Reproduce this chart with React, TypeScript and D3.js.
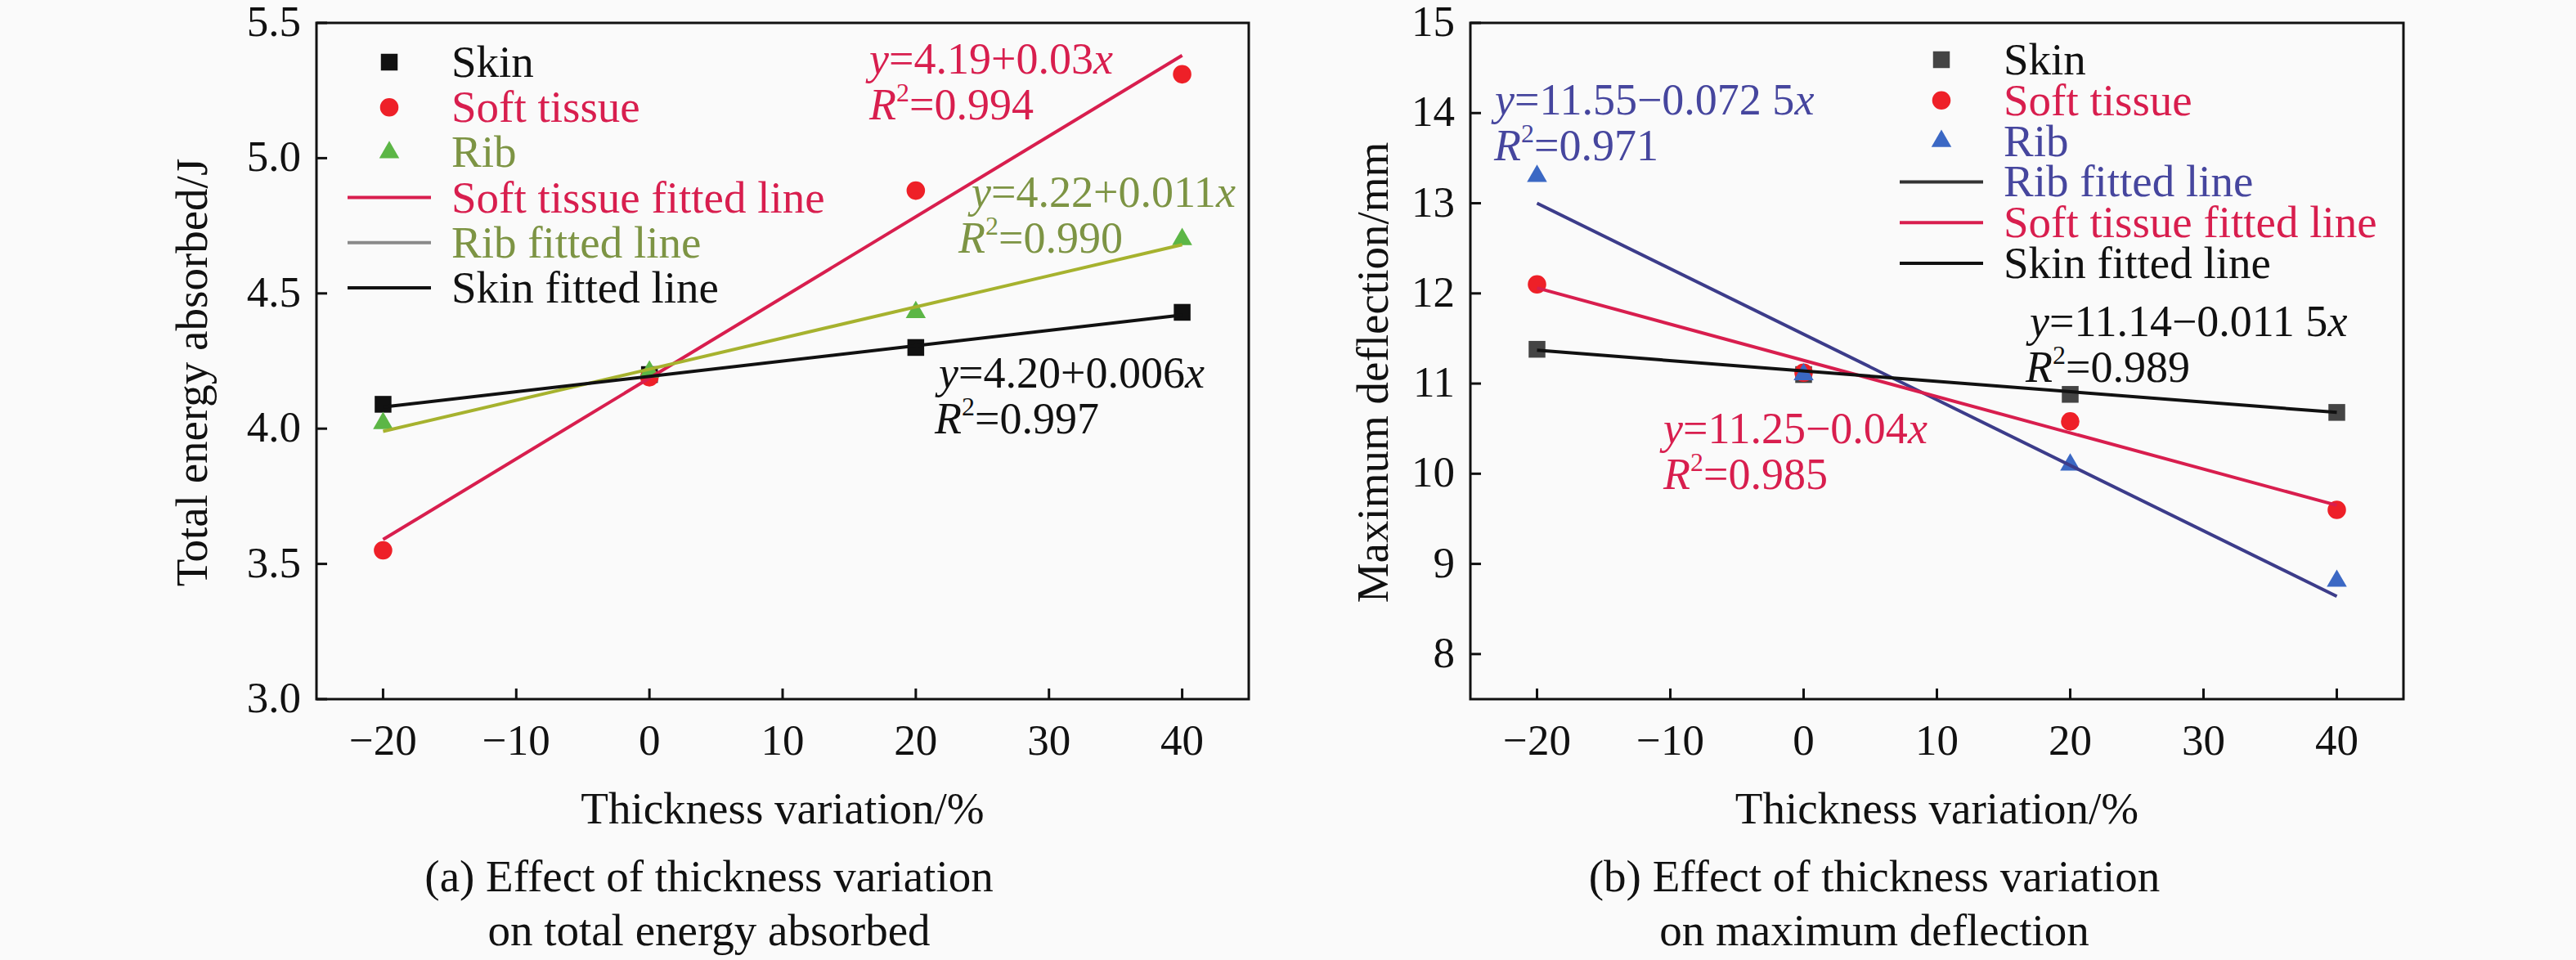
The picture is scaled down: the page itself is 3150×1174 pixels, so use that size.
import React from "react";
import * as d3 from "d3";

// thickness variation (%) where the simulations were run
const thickness = [-20, 0, 20, 40];
// fitted lines are drawn between these two x values
const fitRange = [-20, 40];

// (a) total energy absorbed, J
const energySkin = [4.09, 4.2, 4.3, 4.43];
const energySoft = [3.55, 4.19, 4.88, 5.31];
const energyRib = [4.02, 4.21, 4.43, 4.7];
const energyFitSkin = [4.08, 4.42];
const energyFitSoft = [3.59, 5.38];
const energyFitRib = [3.99, 4.68];
const energyTicks = [3.0, 3.5, 4.0, 4.5, 5.0, 5.5];

// (b) maximum deflection, mm
const deflSkin = [11.38, 11.1, 10.88, 10.68];
const deflSoft = [12.1, 11.12, 10.58, 9.6];
const deflRib = [13.3, 11.1, 10.1, 8.81];
const deflFitSkin = [11.37, 10.68];
const deflFitSoft = [12.06, 9.65];
const deflFitRib = [13.0, 8.64];
const deflTicks = [8, 9, 10, 11, 12, 13, 14, 15];

const xTicks = [-20, -10, 0, 10, 20, 30, 40];

const FONT = "'Liberation Serif', 'Times New Roman', serif";
const CRIMSON = "#d81e4e";
const RED = "#ee2028";

type Eq = { eq: string[]; r2: string; x: number; y: number; rx: number; color: string };
type LegendRow = { label: string; color: string; kind: "square" | "circle" | "triangle" | "line"; fill: string };

interface PanelProps {
  left: number;
  right: number;
  top: number;
  bottom: number;
  yDomain: [number, number];
  yTicks: number[];
  yFormat: (v: number) => string;
  yTitle: string;
  yTitleX: number;
  series: { values: number[]; kind: "square" | "circle" | "triangle"; fill: string }[];
  fits: { values: number[]; color: string }[];
  legend: LegendRow[];
  legendX: number;
  legendY: number;
  legendStep: number;
  equations: Eq[];
  caption: string[];
  captionX: number;
}

const symbolPath = (kind: string) => {
  if (kind === "square") return d3.symbol(d3.symbolSquare, 420)()!;
  if (kind === "circle") return d3.symbol(d3.symbolCircle, 400)()!;
  return d3.symbol(d3.symbolTriangle, 260)()!;
};

const Panel: React.FC<PanelProps> = (p) => {
  const x = d3.scaleLinear().domain([-25, 45]).range([p.left, p.right]);
  const y = d3.scaleLinear().domain(p.yDomain).range([p.bottom, p.top]);
  const line = d3
    .line<number>()
    .x((_, i) => x(fitRange[i]))
    .y((d) => y(d));
  const midX = (p.left + p.right) / 2;
  const midY = (p.top + p.bottom) / 2;

  return (
    <g fontFamily={FONT}>
      {/* points */}
      {p.series.map((s, i) =>
        s.values.map((v, j) => (
          <path
            key={`s${i}-${j}`}
            d={symbolPath(s.kind)}
            transform={`translate(${x(thickness[j])},${y(v)})`}
            fill={s.fill}
          />
        ))
      )}
      {/* fitted lines, over the points as in the original */}
      {p.fits.map((f, i) => (
        <path key={"f" + i} d={line(f.values)!} fill="none" stroke={f.color} strokeWidth={4} />
      ))}
      {/* frame */}
      <rect
        x={p.left}
        y={p.top}
        width={p.right - p.left}
        height={p.bottom - p.top}
        fill="none"
        stroke="#111"
        strokeWidth={3}
      />
      {/* y ticks */}
      {p.yTicks.map((t) => (
        <g key={"y" + t}>
          <line x1={p.left} x2={p.left + 13} y1={y(t)} y2={y(t)} stroke="#111" strokeWidth={3} />
          <text x={p.left - 19} y={y(t) + 16} textAnchor="end" fontSize={53} fill="#111">
            {p.yFormat(t)}
          </text>
        </g>
      ))}
      {/* x ticks */}
      {xTicks.map((t) => (
        <g key={"x" + t}>
          <line x1={x(t)} x2={x(t)} y1={p.bottom} y2={p.bottom - 13} stroke="#111" strokeWidth={3} />
          <text x={x(t)} y={923} textAnchor="middle" fontSize={53} fill="#111">
            {t < 0 ? "\u2212" + Math.abs(t) : t}
          </text>
        </g>
      ))}
      <text x={midX} y={1007} textAnchor="middle" fontSize={55} fill="#111">
        Thickness variation/%
      </text>
      <text
        transform={`translate(${p.yTitleX},${midY + 14}) rotate(-90)`}
        textAnchor="middle"
        fontSize={55}
        fill="#111"
      >
        {p.yTitle}
      </text>
      {/* legend */}
      {p.legend.map((r, i) => {
        const cy = p.legendY + i * p.legendStep;
        return (
          <g key={"l" + i}>
            {r.kind === "line" ? (
              <line x1={p.legendX - 51} x2={p.legendX + 51} y1={cy} y2={cy} stroke={r.fill} strokeWidth={4} />
            ) : (
              <path d={symbolPath(r.kind)} transform={`translate(${p.legendX},${cy})`} fill={r.fill} />
            )}
            <text x={p.legendX + 76} y={cy + 18} fontSize={55} fill={r.color}>
              {r.label}
            </text>
          </g>
        );
      })}
      {/* fitted equations */}
      {p.equations.map((e, i) => (
        <g key={"e" + i} fontSize={54} fill={e.color}>
          <text x={e.x} y={e.y}>
            <tspan fontStyle="italic">{e.eq[0]}</tspan>
            <tspan>{e.eq[1]}</tspan>
            <tspan fontStyle="italic">{e.eq[2]}</tspan>
          </text>
          <text x={e.rx} y={e.y + 56}>
            <tspan fontStyle="italic">R</tspan>
            <tspan fontSize={32} dy={-22}>
              2
            </tspan>
            <tspan dy={22}>{"=" + e.r2}</tspan>
          </text>
        </g>
      ))}
      {/* caption */}
      {p.caption.map((c, i) => (
        <text key={"c" + i} x={p.captionX} y={1090 + i * 66} textAnchor="middle" fontSize={55} fill="#111">
          {c}
        </text>
      ))}
    </g>
  );
};

const RIB_L = "#7d9444";
const RIB_R = "#46469e";

const App: React.FC = () => (
  <svg
    width={3150}
    height={1174}
    style={{ position: "absolute", left: 0, top: 0, background: "#fafafa" }}
  >
    <rect width={3150} height={1174} fill="#fafafa" />
    <Panel
      left={387}
      right={1527}
      top={28}
      bottom={855}
      yDomain={[3.0, 5.5]}
      yTicks={energyTicks}
      yFormat={(v) => v.toFixed(1)}
      yTitle="Total energy absorbed/J"
      yTitleX={253}
      series={[
        { values: energySkin, kind: "square", fill: "#111" },
        { values: energySoft, kind: "circle", fill: RED },
        { values: energyRib, kind: "triangle", fill: "#5cb646" },
      ]}
      fits={[
        { values: energyFitSoft, color: CRIMSON },
        { values: energyFitRib, color: "#a6b22e" },
        { values: energyFitSkin, color: "#111" },
      ]}
      legend={[
        { label: "Skin", color: "#111", kind: "square", fill: "#111" },
        { label: "Soft tissue", color: CRIMSON, kind: "circle", fill: RED },
        { label: "Rib", color: RIB_L, kind: "triangle", fill: "#5cb646" },
        { label: "Soft tissue fitted line", color: CRIMSON, kind: "line", fill: CRIMSON },
        { label: "Rib fitted line", color: RIB_L, kind: "line", fill: "#8a8a8a" },
        { label: "Skin fitted line", color: "#111", kind: "line", fill: "#111" },
      ]}
      legendX={476}
      legendY={76}
      legendStep={55.2}
      equations={[
        { eq: ["y", "=4.19+0.03", "x"], r2: "0.994", x: 1063, y: 90, rx: 1063, color: CRIMSON },
        { eq: ["y", "=4.22+0.011", "x"], r2: "0.990", x: 1188, y: 253, rx: 1172, color: RIB_L },
        { eq: ["y", "=4.20+0.006", "x"], r2: "0.997", x: 1148, y: 474, rx: 1143, color: "#111" },
      ]}
      caption={["(a) Effect of thickness variation", "on total energy absorbed"]}
      captionX={867}
    />
    <Panel
      left={1798}
      right={2939}
      top={28}
      bottom={855}
      yDomain={[7.5, 15]}
      yTicks={deflTicks}
      yFormat={(v) => String(v)}
      yTitle="Maximum deflection/mm"
      yTitleX={1697}
      series={[
        { values: deflSkin, kind: "square", fill: "#444" },
        { values: deflSoft, kind: "circle", fill: RED },
        { values: deflRib, kind: "triangle", fill: "#3b68c4" },
      ]}
      fits={[
        { values: deflFitRib, color: "#3c3c8a" },
        { values: deflFitSoft, color: CRIMSON },
        { values: deflFitSkin, color: "#111" },
      ]}
      legend={[
        { label: "Skin", color: "#111", kind: "square", fill: "#444" },
        { label: "Soft tissue", color: CRIMSON, kind: "circle", fill: RED },
        { label: "Rib", color: RIB_R, kind: "triangle", fill: "#3b68c4" },
        { label: "Rib fitted line", color: RIB_R, kind: "line", fill: "#333" },
        { label: "Soft tissue fitted line", color: CRIMSON, kind: "line", fill: CRIMSON },
        { label: "Skin fitted line", color: "#111", kind: "line", fill: "#111" },
      ]}
      legendX={2374}
      legendY={73}
      legendStep={49.8}
      equations={[
        { eq: ["y", "=11.55\u22120.072 5", "x"], r2: "0.971", x: 1828, y: 140, rx: 1827, color: RIB_R },
        { eq: ["y", "=11.14\u22120.011 5", "x"], r2: "0.989", x: 2482, y: 411, rx: 2477, color: "#111" },
        { eq: ["y", "=11.25\u22120.04", "x"], r2: "0.985", x: 2034, y: 542, rx: 2034, color: CRIMSON },
      ]}
      caption={["(b) Effect of thickness variation", "on maximum deflection"]}
      captionX={2292}
    />
  </svg>
);

export default App;
